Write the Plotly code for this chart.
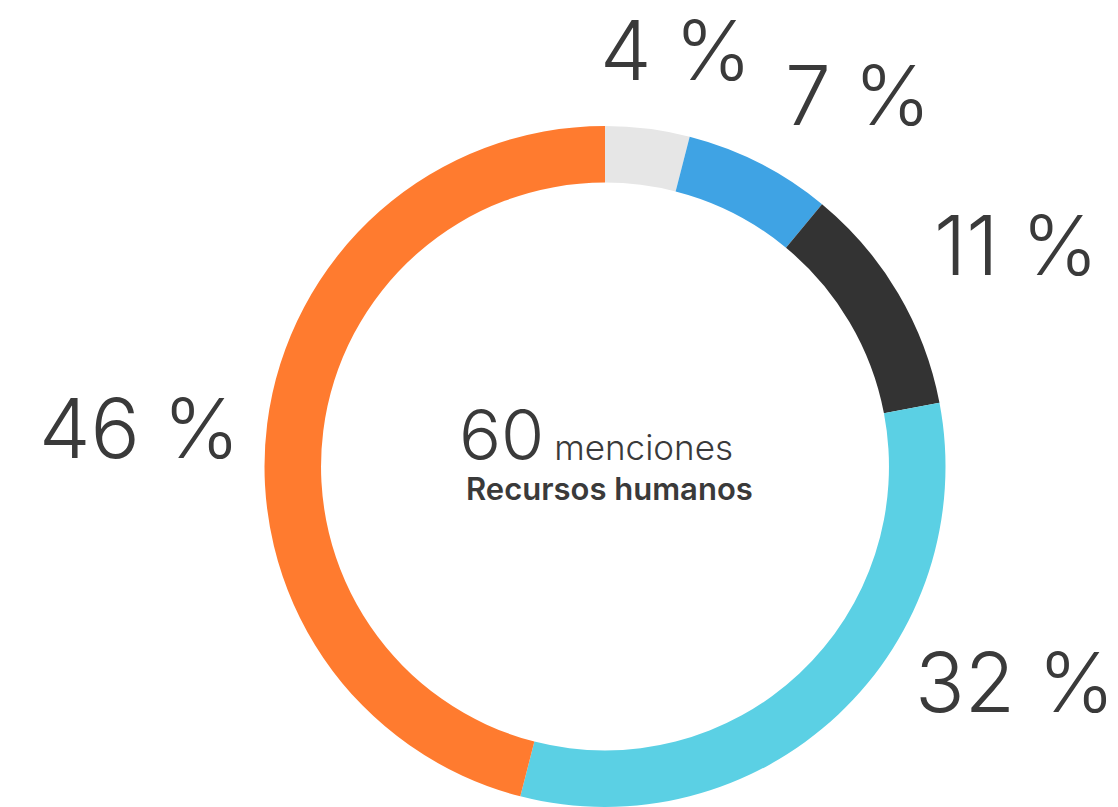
import plotly.graph_objects as go

W, H = 1118, 807

# Datos del gráfico (sentido horario desde las 12)
categorias = ["A", "B", "C", "D", "E"]
porcentajes = [4, 7, 11, 32, 46]
colores = ["#e6e6e6", "#3fa3e4", "#333333", "#5bd0e4", "#ff7b2f"]
total_menciones = 60
tema = "Recursos humanos"

# posición (px) de cada etiqueta: centro horizontal y vertical
pos_etiquetas = [(675, 50), (858, 95), (1016, 245), (1015, 682), (139, 428)]

TEXTO = "#3a3a3a"
FUENTE = "Inter"

fig = go.Figure(
    go.Pie(
        labels=categorias,
        values=porcentajes,
        marker=dict(colors=colores, line=dict(width=0)),
        hole=0.834,
        sort=False,
        direction="clockwise",
        rotation=0,
        textinfo="none",
        hoverinfo="label+percent",
        showlegend=False,
        domain=dict(x=[262 / W, 948 / W], y=[0, (H - 126) / H]),
    )
)

anotaciones = []
for pct, (px_x, px_y) in zip(porcentajes, pos_etiquetas):
    anotaciones.append(
        dict(
            text=f"{pct} %",
            x=px_x / W,
            y=1 - px_y / H,
            xref="paper",
            yref="paper",
            xanchor="center",
            yanchor="middle",
            showarrow=False,
            font=dict(family=FUENTE, size=82, color=TEXTO, weight=300),
        )
    )

anotaciones.append(
    dict(
        text=f"<span style='font-size:70px'>{total_menciones}</span> menciones",
        x=596 / W,
        y=1 - 435 / H,
        xref="paper",
        yref="paper",
        xanchor="center",
        yanchor="middle",
        showarrow=False,
        font=dict(family=FUENTE, size=35, color=TEXTO, weight=300),
    )
)
anotaciones.append(
    dict(
        text=tema,
        x=609 / W,
        y=1 - 488 / H,
        xref="paper",
        yref="paper",
        xanchor="center",
        yanchor="middle",
        showarrow=False,
        font=dict(family=FUENTE, size=31, color=TEXTO, weight=600),
    )
)

fig.update_layout(
    width=W,
    height=H,
    autosize=False,
    margin=dict(t=0, l=0, r=0, b=0),
    paper_bgcolor="white",
    plot_bgcolor="white",
    annotations=anotaciones,
)

# sin margen del <body> para que la figura ocupe la ventana exacta
fig.write_html(
    "out.html",
    config={"displayModeBar": False},
    post_script="document.body.style.margin='0';document.body.style.overflow='hidden';",
)
